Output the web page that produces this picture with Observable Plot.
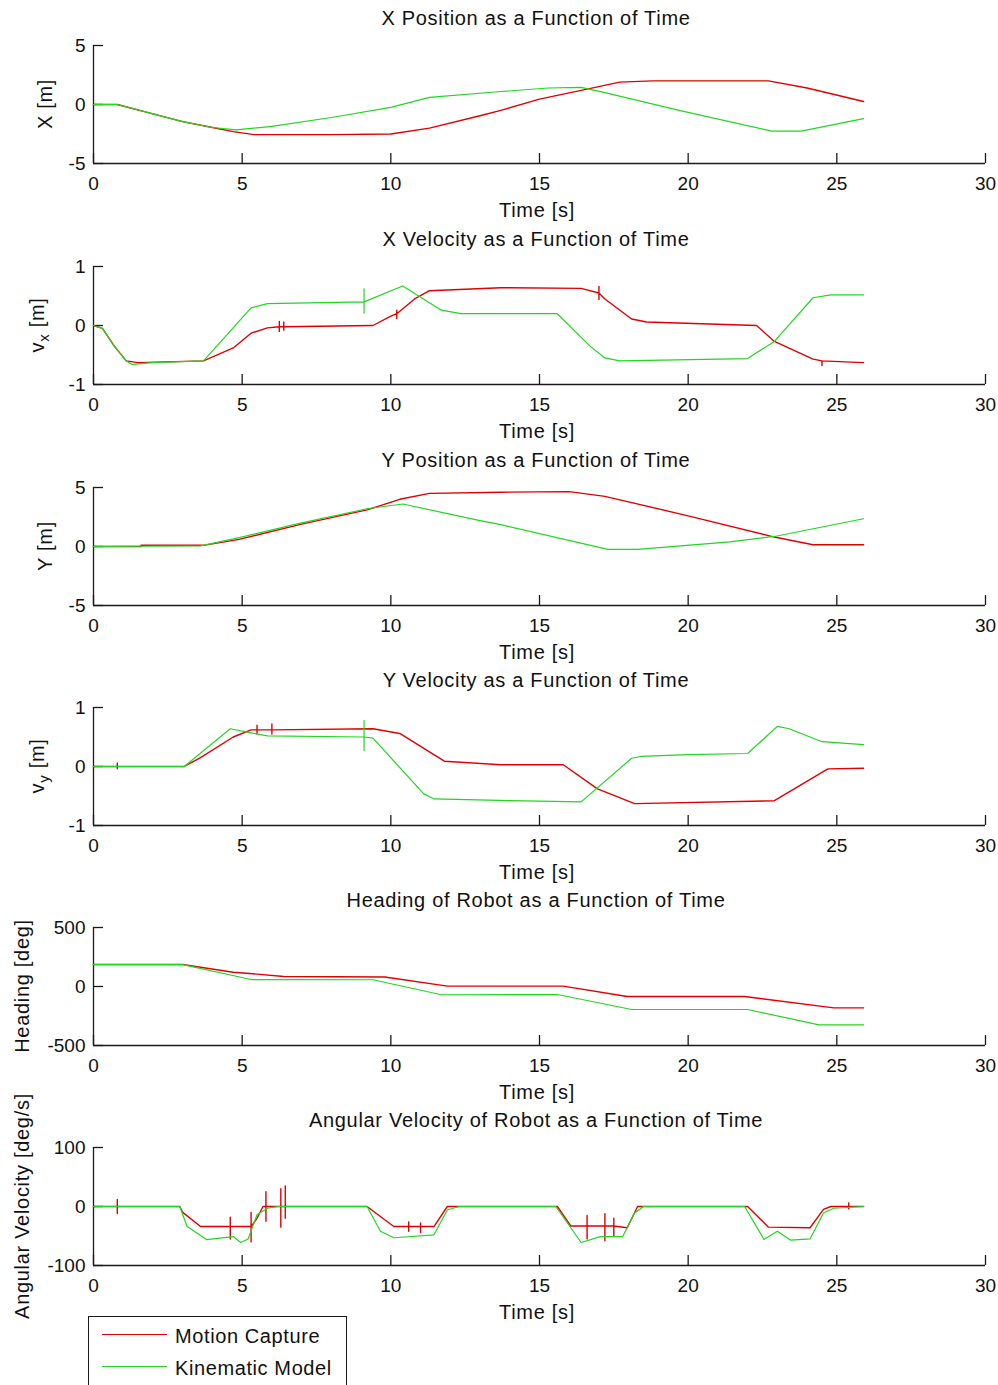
<!DOCTYPE html>
<html><head><meta charset="utf-8">
<script src="https://cdn.jsdelivr.net/npm/d3@7"></script>
<script src="https://cdn.jsdelivr.net/npm/@observablehq/plot@0.6"></script>
<style>
html,body{margin:0;padding:0;background:#fff;}
#chart{position:relative;width:998px;height:1385px;overflow:hidden;font-family:"Liberation Sans",Arial,sans-serif;}
.panel{position:absolute;left:0;}
#legend{position:absolute;left:88px;top:1316px;width:259px;height:80px;border:1px solid #1a1a1a;background:#fff;box-sizing:border-box;}
.lg-line{position:absolute;left:13px;width:65px;height:1.4px;}
.lg-text{position:absolute;left:86px;font-size:20px;letter-spacing:0.6px;color:#111;line-height:20px;}
</style></head>
<body><div id="chart"></div>
<script>
// ---------- data: [time s, value] ----------
const timeTicks = [0, 5, 10, 15, 20, 25, 30];

const xPosMC = [[0,0],[0.8,0],[2,-0.8],[3,-1.45],[4,-1.95],[4.7,-2.3],[5.4,-2.55],[8,-2.55],[10,-2.5],[11.3,-2.0],[13,-0.95],[13.7,-0.5],[15,0.45],[16.6,1.3],[17.7,1.9],[18.8,2.0],[22.7,2.0],[24,1.4],[25.9,0.25]];
const xPosKM = [[0,0],[0.8,0],[2,-0.8],[3,-1.45],[4,-1.95],[4.8,-2.15],[6,-1.85],[8,-1.1],[10,-0.25],[11.3,0.6],[13.7,1.1],[15.3,1.4],[16.4,1.45],[17.2,1.0],[19.7,-0.5],[22.8,-2.25],[23.8,-2.25],[25.9,-1.2]];

const xVelMC = [[0,0],[0.3,-0.05],[0.7,-0.35],[1.1,-0.6],[1.5,-0.63],[3.7,-0.6],[4.7,-0.38],[5.3,-0.13],[5.85,-0.04],[6.25,-0.02],[6.25,0.07],[6.25,-0.1],[6.25,-0.02],[6.4,-0.02],[6.4,0.06],[6.4,-0.08],[6.4,-0.02],[9.4,0.0],[10,0.16],[10.2,0.2],[10.2,0.26],[10.2,0.12],[10.2,0.2],[10.8,0.45],[11.3,0.59],[13.7,0.64],[16.4,0.63],[17.0,0.55],[17.0,0.66],[17.0,0.44],[17.0,0.55],[17.2,0.45],[18.1,0.11],[18.6,0.06],[22.3,0.0],[22.9,-0.27],[24.2,-0.57],[24.5,-0.6],[24.5,-0.68],[24.5,-0.6],[25.9,-0.63]];
const xVelKM = [[0,0],[0.3,-0.05],[0.7,-0.35],[1.1,-0.6],[1.3,-0.66],[2,-0.63],[3.7,-0.6],[5.3,0.3],[5.85,0.37],[9.1,0.4],[9.1,0.62],[9.1,0.21],[9.1,0.4],[10.4,0.67],[11.7,0.26],[12.35,0.2],[15.6,0.2],[16.7,-0.35],[17.2,-0.55],[17.7,-0.6],[22.0,-0.56],[22.9,-0.27],[24.2,0.47],[24.8,0.52],[25.9,0.52]];

const yPosMC = [[0,0],[1.6,0],[1.6,0.1],[3.7,0.1],[4.9,0.6],[7,1.9],[9.2,3.1],[10.3,4.0],[11.3,4.5],[13.7,4.6],[16,4.65],[17.2,4.25],[20,2.6],[22.9,0.8],[24.2,0.15],[25.9,0.15]];
const yPosKM = [[0,0],[3.6,0.05],[4.9,0.75],[7,2.0],[9.2,3.2],[10.4,3.6],[13,2.2],[13.7,1.85],[17.3,-0.25],[18.3,-0.25],[21.4,0.4],[22.9,0.85],[25.9,2.35]];

const yVelMC = [[0,0],[0.8,0],[0.8,0.06],[0.8,-0.04],[0.8,0],[3.05,0],[3.6,0.15],[4.7,0.5],[5.3,0.62],[5.5,0.62],[5.5,0.7],[5.5,0.55],[5.5,0.62],[6.0,0.62],[6.0,0.72],[6.0,0.55],[6.0,0.62],[9.4,0.64],[10.3,0.56],[11.8,0.09],[13.7,0.03],[15.8,0.03],[16.95,-0.38],[18.2,-0.63],[22.9,-0.58],[24.7,-0.04],[25.9,-0.03]];
const yVelKM = [[0,0],[3.05,0],[4.6,0.64],[5.3,0.57],[5.85,0.52],[9.1,0.5],[9.1,0.78],[9.1,0.27],[9.1,0.5],[9.4,0.48],[11.1,-0.46],[11.45,-0.55],[14,-0.58],[16.4,-0.6],[18.1,0.14],[18.4,0.17],[20,0.2],[22.0,0.22],[23.0,0.68],[23.4,0.64],[24.5,0.42],[25.9,0.37]];

const headMC = [[0,186],[3.0,186],[4.7,121],[5.5,105],[6.4,85],[9.8,80],[11.9,3],[15.8,3],[17.95,-85],[21.9,-85],[24.9,-181],[25.9,-181]];
const headKM = [[0,186],[3.0,186],[5.3,59],[9.4,57],[11.7,-70],[15.6,-68],[18.1,-195],[22.0,-195],[24.4,-325],[25.9,-325]];

const angMC = [[0,0],[0.8,0],[0.8,12],[0.8,-12],[0.8,0],[2.9,0],[3.0,-10],[3.6,-34],[4.6,-34],[4.6,-18],[4.6,-55],[4.6,-34],[5.3,-34],[5.3,-10],[5.3,-60],[5.3,-34],[5.5,-20],[5.7,0],[5.8,0],[5.8,25],[5.8,-25],[5.8,0],[6.3,0],[6.3,30],[6.3,-35],[6.3,0],[6.45,0],[6.45,35],[6.45,-20],[6.45,0],[9.2,0],[10.1,-34],[10.6,-34],[10.6,-42],[10.6,-26],[10.6,-34],[11.0,-34],[11.0,-44],[11.0,-28],[11.0,-34],[11.45,-34],[11.9,0],[15.6,0],[16.05,-33],[16.6,-33],[16.6,-15],[16.6,-55],[16.6,-33],[17.2,-33],[17.2,-12],[17.2,-58],[17.2,-33],[17.5,-33],[17.5,-20],[17.5,-50],[17.5,-33],[17.95,-36],[18.3,0],[22.0,0],[22.7,-35],[24.1,-36],[24.55,-5],[24.8,0],[25.4,0],[25.4,6],[25.4,-4],[25.4,0],[25.9,0]];
const angKM = [[0,0],[2.9,0],[3.15,-34],[3.8,-56],[4.7,-51],[4.95,-61],[5.2,-55],[5.5,-14],[5.85,-3],[6.2,0],[9.2,0],[9.65,-42],[10.1,-53],[11.45,-48],[11.9,-6],[12.3,0],[15.55,0],[16.4,-61],[17.05,-51],[17.8,-51],[18.2,-11],[18.5,0],[21.9,0],[22.55,-56],[23.0,-42],[23.45,-57],[24.1,-55],[24.55,-11],[24.9,-3],[25.9,0]];

const titles = ["X Position as a Function of Time","X Velocity as a Function of Time","Y Position as a Function of Time","Y Velocity as a Function of Time","Heading of Robot as a Function of Time","Angular Velocity of Robot as a Function of Time"];
const yLabels = [{main:"X [m]"},{main:"v",sub:"x",rest:" [m]"},{main:"Y [m]"},{main:"v",sub:"y",rest:" [m]"},{main:"Heading [deg]"},{main:"Angular Velocity [deg/s]"}];
const yTickSets = [[-5,0,5],[-1,0,1],[-5,0,5],[-1,0,1],[-500,0,500],[-100,0,100]];
const seriesNames = ["Motion Capture","Kinematic Model"];

// ---------- layout ----------
const RED = "#e00000", GREEN = "#22d622", AX = "#1a1a1a";
const W = 998, ML = 93, MR = 13, MT = 40, PH = 118, MB = 62, H = MT + PH + MB;
const plotTops = [45, 266, 487, 707, 927, 1147];
const labelXs = [45, 37, 45, 37, 22, 22];
const seriesPairs = [[xPosMC,xPosKM],[xVelMC,xVelKM],[yPosMC,yPosKM],[yVelMC,yVelKM],[headMC,headKM],[angMC,angKM]];
const chart = document.getElementById("chart");

seriesPairs.forEach(([mc, km], i) => {
  const yt = yTickSets[i];
  const y0 = yt[0], y1 = yt[yt.length - 1];
  const tyLen = (y1 - y0) * 10 / PH;
  const txLen = 30 * 10 / (W - ML - MR);
  const svg = Plot.plot({
    width: W, height: H, marginLeft: ML, marginRight: MR, marginTop: MT, marginBottom: MB,
    style: {fontFamily: '"Liberation Sans", Arial, sans-serif', fontSize: "19px", color: "#111", background: "transparent", overflow: "visible"},
    x: {domain: [0, 30]},
    y: {domain: [y0, y1]},
    marks: [
      Plot.axisX(timeTicks, {tickSize: 0, tickPadding: 13, tickFormat: d => `${d}`, label: null}),
      Plot.axisY(yt, {tickSize: 0, tickPadding: 8, tickFormat: d => `${d}`, label: null}),
      Plot.ruleY([y0], {stroke: AX, strokeWidth: 1.3}),
      Plot.ruleX([0], {stroke: AX, strokeWidth: 1.3}),
      Plot.ruleX(timeTicks, {y1: y0, y2: y0 + tyLen, stroke: AX, strokeWidth: 1.3}),
      Plot.ruleY(yt, {x1: 0, x2: txLen, stroke: AX, strokeWidth: 1.3}),
      Plot.line(mc, {x: d => d[0], y: d => d[1], stroke: RED, strokeWidth: 1.4}),
      Plot.line(km, {x: d => d[0], y: d => d[1], stroke: GREEN, strokeWidth: 1.2})
    ]
  });
  const s = d3.select(svg);
  s.append("text").attr("x", 536).attr("y", MT - 27).attr("text-anchor", "middle")
    .attr("dominant-baseline", "central").attr("font-size", 20).attr("letter-spacing", "0.7px")
    .attr("fill", "#111").text(titles[i]);
  s.append("text").attr("x", 537).attr("y", MT + PH + 47).attr("text-anchor", "middle")
    .attr("dominant-baseline", "central").attr("font-size", 20).attr("letter-spacing", "0.7px")
    .attr("fill", "#111").text("Time [s]");
  const lab = yLabels[i];
  const t = s.append("text").attr("transform", `translate(${labelXs[i]},${MT + PH / 2}) rotate(-90)`)
    .attr("text-anchor", "middle").attr("dominant-baseline", "central").attr("font-size", 20)
    .attr("letter-spacing", "0.7px").attr("fill", "#111");
  t.append("tspan").text(lab.main);
  if (lab.sub) {
    t.append("tspan").attr("font-size", 15).attr("dy", 6).text(lab.sub);
    t.append("tspan").attr("dy", -6).text(lab.rest);
  }
  svg.classList.add("panel");
  svg.style.top = (plotTops[i] - MT) + "px";
  svg.style.position = "absolute";
  chart.appendChild(svg);
});

// legend
const lg = document.createElement("div");
lg.id = "legend";
[RED, GREEN].forEach((c, k) => {
  const ln = document.createElement("div");
  ln.className = "lg-line"; ln.style.background = c; ln.style.top = (17 + k * 32) + "px";
  const tx = document.createElement("div");
  tx.className = "lg-text"; tx.style.top = (9 + k * 32) + "px"; tx.textContent = seriesNames[k];
  lg.appendChild(ln); lg.appendChild(tx);
});
chart.appendChild(lg);
</script>
</body></html>
